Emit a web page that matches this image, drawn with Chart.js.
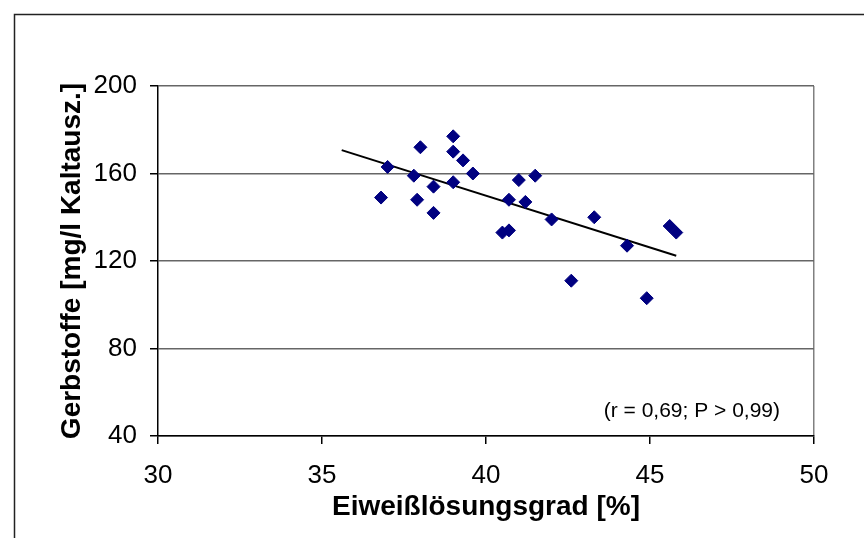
<!DOCTYPE html>
<html>
<head>
<meta charset="utf-8">
<script src="https://cdn.jsdelivr.net/npm/chart.js@4/dist/chart.umd.min.js"></script>
<style>
  html, body { margin: 0; padding: 0; background: #fff; }
  #wrap { width: 864px; height: 538px; }
</style>
</head>
<body>
<div id="wrap"><canvas id="chart" width="864" height="538"></canvas></div>
<script>
// Eiweißlösungsgrad vs. Gerbstoffe
const eiweiss = [36.8, 37.0, 37.8, 37.9, 38.0, 38.4, 38.4, 39.0, 39.0, 39.0, 39.3, 39.6,
                 40.5, 40.7, 40.7, 41.0, 41.2, 41.5, 42.0, 42.6, 43.3, 44.3, 44.9, 45.6, 45.8];
const gerbstoffe = [149, 163, 159, 148, 172, 154, 142, 177, 170, 156, 166, 160,
                    133, 134, 148, 157, 147, 159, 139, 111, 140, 127, 103, 136, 133];

// trend line end points
const trendX = [35.6, 45.8];
const trendY = [170.7, 122.4];

const xTicks = [30, 35, 40, 45, 50];
const yTicks = [40, 80, 120, 160, 200];
const note = '(r = 0,69; P > 0,99)';

const points = eiweiss.map((x, i) => ({ x: x, y: gerbstoffe[i] }));
const trend = trendX.map((x, i) => ({ x: x, y: trendY[i] }));

const framePlugin = {
    id: 'frame',
    beforeDraw(chart) {
        const c = chart.ctx;
        c.save();
        c.fillStyle = '#fff';
        c.fillRect(0, 0, chart.width, chart.height);
        c.strokeStyle = '#222';
        c.lineWidth = 1.5;
        c.beginPath();
        c.moveTo(14.5, chart.height);
        c.lineTo(14.5, 14.5);
        c.lineTo(chart.width, 14.5);
        c.stroke();
        c.restore();
    },
    afterDraw(chart) {
        const c = chart.ctx, a = chart.chartArea;
        c.save();
        c.font = '21px "Liberation Sans", Arial, sans-serif';
        c.fillStyle = '#000';
        c.textAlign = 'right';
        c.textBaseline = 'middle';
        c.fillText(note, a.right - 34, a.bottom - 25);
        c.restore();
    }
};

new Chart(document.getElementById('chart').getContext('2d'), {
    type: 'scatter',
    data: {
        datasets: [{
            label: 'Gerbstoffe',
            data: points,
            pointStyle: 'rectRot',
            pointRadius: 6.5,
            pointHoverRadius: 6.5,
            backgroundColor: '#000080',
            borderColor: '#000080',
            borderWidth: 1
        }, {
            type: 'line',
            label: 'Trend',
            data: trend,
            borderColor: '#000',
            borderWidth: 2,
            pointRadius: 0,
            fill: false
        }]
    },
    options: {
        responsive: false,
        animation: false,
        layout: { padding: { left: 0, top: 86, right: 50, bottom: 0 } },
        plugins: {
            legend: { display: false },
            tooltip: { enabled: false }
        },
        scales: {
            x: {
                type: 'linear',
                min: 30, max: 50,
                afterBuildTicks(s) { s.ticks = xTicks.map(v => ({ value: v })); },
                afterFit(s) { s.height = 102; },
                ticks: {
                    color: '#000',
                    padding: 16,
                    maxRotation: 0,
                    font: { family: '"Liberation Sans", Arial, sans-serif', size: 26 }
                },
                grid: {
                    color: ctx => (ctx.tick && ctx.tick.value === 50) ? '#808080' : 'rgba(0,0,0,0)',
                    tickColor: '#000',
                    tickLength: 8,
                    lineWidth: 1.5
                },
                border: { color: '#000', width: 1.5 },
                title: {
                    display: true,
                    text: 'Eiweißlösungsgrad [%]',
                    color: '#000',
                    padding: { top: 0, bottom: 14 },
                    font: { family: '"Liberation Sans", Arial, sans-serif', size: 28, weight: 'bold' }
                }
            },
            y: {
                min: 40, max: 200,
                afterBuildTicks(s) { s.ticks = yTicks.map(v => ({ value: v })); },
                afterFit(s) { s.width = 158; },
                ticks: {
                    color: '#000',
                    padding: 13,
                    font: { family: '"Liberation Sans", Arial, sans-serif', size: 26 }
                },
                grid: {
                    color: '#666',
                    tickColor: '#000',
                    tickLength: 8,
                    lineWidth: 1.5
                },
                border: { color: '#000', width: 1.5 },
                title: {
                    display: true,
                    text: 'Gerbstoffe [mg/l Kaltausz.]',
                    color: '#000',
                    padding: { top: 55, bottom: 0 },
                    font: { family: '"Liberation Sans", Arial, sans-serif', size: 28, weight: 'bold' }
                }
            }
        }
    },
    plugins: [framePlugin]
});
</script>
</body>
</html>
